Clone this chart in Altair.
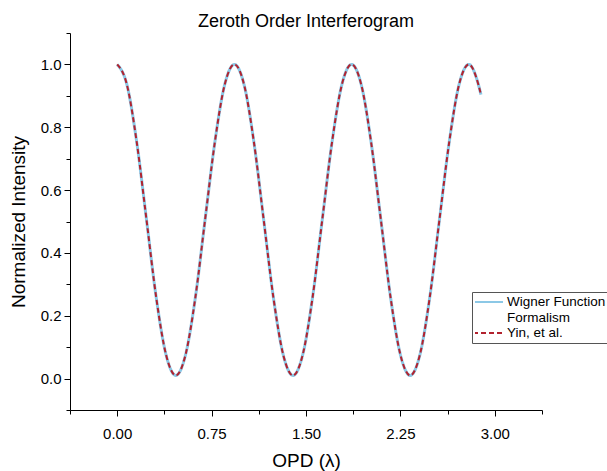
import altair as alt
import pandas as pd

# Optical path difference (in wavelengths) and normalized intensity
opd = [0.000, 0.078, 0.155, 0.233, 0.310, 0.388, 0.466, 0.543, 0.621, 0.698,
       0.776, 0.853, 0.931, 1.009, 1.086, 1.164, 1.241, 1.319, 1.397, 1.474,
       1.552, 1.629, 1.707, 1.784, 1.862, 1.940, 2.017, 2.095, 2.172, 2.250,
       2.328, 2.405, 2.483, 2.560, 2.638, 2.715, 2.793, 2.871, 2.890]
wigner = [1.000, 0.934, 0.753, 0.505, 0.258, 0.076, 0.010, 0.076, 0.258, 0.505,
          0.753, 0.934, 1.000, 0.934, 0.753, 0.505, 0.258, 0.076, 0.010, 0.076,
          0.258, 0.505, 0.753, 0.934, 1.000, 0.934, 0.753, 0.505, 0.258, 0.076,
          0.010, 0.076, 0.258, 0.505, 0.753, 0.934, 1.000, 0.934, 0.904]
yin = [1.000, 0.934, 0.753, 0.505, 0.258, 0.076, 0.010, 0.076, 0.258, 0.505,
       0.753, 0.934, 1.000, 0.934, 0.753, 0.505, 0.258, 0.076, 0.010, 0.076,
       0.258, 0.505, 0.753, 0.934, 1.000, 0.934, 0.753, 0.505, 0.258, 0.076,
       0.010, 0.076, 0.258, 0.505, 0.753, 0.934, 1.000, 0.934, 0.904]

series_names = ["Wigner Function Formalism", "Yin, et al."]
series_colors = ["#8CC8E6", "#B2222E"]
series_dashes = [[1, 0], [5, 3]]

x_ticks = [-0.375, 0.0, 0.375, 0.75, 1.125, 1.5, 1.875, 2.25, 2.625, 3.0, 3.375]
y_ticks = [-0.1, 0.0, 0.1, 0.2, 0.3, 0.4, 0.5, 0.6, 0.7, 0.8, 0.9, 1.0, 1.1]

df_w = pd.DataFrame({"OPD": opd, "I": wigner, "series": series_names[0]})
df_y = pd.DataFrame({"OPD": opd, "I": yin, "series": series_names[1]})

x_major = "abs(datum.value/0.75 - round(datum.value/0.75)) < 0.001"
y_major = "abs(datum.value/0.2 - round(datum.value/0.2)) < 0.001"
legend_expr = ("datum.label == 'Wigner Function Formalism' ? "
               "['Wigner Function', 'Formalism'] : datum.label")

x_enc = alt.X(
    "OPD:Q",
    scale=alt.Scale(domain=[-0.375, 3.375], nice=False, zero=False),
    axis=alt.Axis(
        values=x_ticks,
        title="OPD (λ)",
        labelExpr=f"{x_major} ? format(datum.value, '.2f') : ''",
        tickSize={"condition": {"test": x_major, "value": 6}, "value": 4},
        labelPadding=10,
        titlePadding=10,
    ),
)
y_enc = alt.Y(
    "I:Q",
    scale=alt.Scale(domain=[-0.1, 1.1], nice=False, zero=False),
    axis=alt.Axis(
        values=y_ticks,
        title="Normalized Intensity",
        labelExpr=f"{y_major} ? format(datum.value, '.1f') : ''",
        tickSize={"condition": {"test": y_major, "value": 6}, "value": 4},
        labelPadding=3,
        titlePadding=12,
    ),
)
legend = alt.Legend(title=None, labelExpr=legend_expr, clipHeight=14)
color_enc = alt.Color(
    "series:N",
    scale=alt.Scale(domain=series_names, range=series_colors),
    legend=legend,
)
dash_enc = alt.StrokeDash(
    "series:N",
    scale=alt.Scale(domain=series_names, range=series_dashes),
    legend=legend,
)

line_w = alt.Chart(df_w).mark_line(strokeWidth=3, interpolate="monotone").encode(
    x=x_enc, y=y_enc, color=color_enc, strokeDash=dash_enc
)
line_y = alt.Chart(df_y).mark_line(strokeWidth=2, interpolate="monotone").encode(
    x=x_enc, y=y_enc, color=color_enc, strokeDash=dash_enc
)

chart = (
    alt.layer(line_w, line_y)
    .properties(
        width=472,
        height=377,
        title=alt.TitleParams("Zeroth Order Interferogram", fontSize=18,
                              font="Liberation Sans", fontWeight="normal",
                              color="black", offset=2, anchor="middle"),
        autosize=alt.AutoSizeParams(type="none"),
        padding={"left": 70, "top": 33, "right": 65, "bottom": 61},
        background="white",
    )
    .configure_view(stroke=None)
    .configure_axis(
        grid=False,
        domainColor="black",
        tickColor="black",
        labelColor="black",
        titleColor="black",
        labelFont="Liberation Sans",
        labelFontSize=15,
        titleFont="Liberation Sans",
        titleFontSize=19,
        titleFontWeight="normal",
    )
    .configure_legend(
        orient="none",
        legendX=402,
        legendY=259,
        strokeColor="#555555",
        fillColor="white",
        padding=3,
        rowPadding=2,
        labelFont="Liberation Sans",
        labelFontSize=13.5,
        labelColor="black",
        labelLimit=400,
        labelOffset=3,
        symbolOffset=-3,
        symbolType="stroke",
        symbolSize=900,
        symbolStrokeWidth=2,
    )
)

chart.save("out.html", embed_options={"renderer": "svg", "actions": False})
